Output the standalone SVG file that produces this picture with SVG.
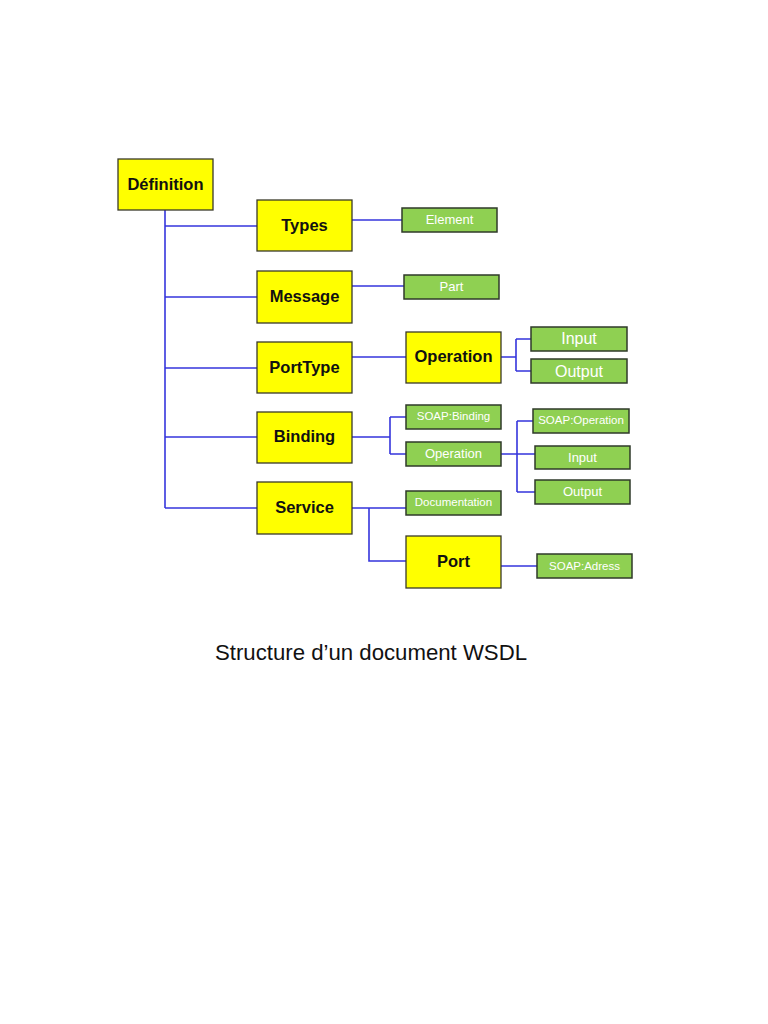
<svg xmlns="http://www.w3.org/2000/svg" width="768" height="1024" viewBox="0 0 768 1024">
<style>
.y{fill:#FFFF00;stroke:#3a3a2a;stroke-width:1.3}
.g{fill:#8FD052;stroke:#2f3a2a;stroke-width:1.5}
.yt{font-family:"Liberation Sans",Arial,sans-serif;font-weight:bold;font-size:16.5px;fill:#111;text-anchor:middle}
.gt{font-family:"Liberation Sans",Arial,sans-serif;font-size:13px;fill:#fff;text-anchor:middle}
.gs{font-family:"Liberation Sans",Arial,sans-serif;font-size:11.5px;fill:#fff;text-anchor:middle}
.gl{font-family:"Liberation Sans",Arial,sans-serif;font-size:16px;fill:#fff;text-anchor:middle}
.c{fill:none;stroke:#3535DC;stroke-width:1.6}
</style>
<rect width="768" height="1024" fill="#fff"/>
<g id="connectors">
<path class="c" d="M165,210 V508"/>
<path class="c" d="M165,226 H257"/>
<path class="c" d="M165,297 H257"/>
<path class="c" d="M165,368 H257"/>
<path class="c" d="M165,437 H257"/>
<path class="c" d="M165,508 H257"/>
<path class="c" d="M352,220 H402"/>
<path class="c" d="M352,286 H404"/>
<path class="c" d="M352,357 H406"/>
<path class="c" d="M501,357 H516 M516,339 V371 M516,339 H531 M516,371 H531"/>
<path class="c" d="M352,437 H390 M390,417 V454 M390,417 H406 M390,454 H406"/>
<path class="c" d="M501,454 H535 M517,421 V492 M517,421 H533 M517,492 H535"/>
<path class="c" d="M352,508 H406 M369,508 V561 H406"/>
<path class="c" d="M501,566 H537"/>
</g>
<g id="definition"><rect class="y" x="118" y="159" width="95" height="51"/><text class="yt" x="165.5" y="190">Définition</text></g>
<g id="types"><rect class="y" x="257" y="200" width="95" height="51"/><text class="yt" x="304.5" y="231">Types</text></g>
<g id="message"><rect class="y" x="257" y="271" width="95" height="52"/><text class="yt" x="304.5" y="302">Message</text></g>
<g id="porttype"><rect class="y" x="257" y="342" width="95" height="51"/><text class="yt" x="304.5" y="373">PortType</text></g>
<g id="binding"><rect class="y" x="257" y="412" width="95" height="51"/><text class="yt" x="304.5" y="442">Binding</text></g>
<g id="service"><rect class="y" x="257" y="482" width="95" height="52"/><text class="yt" x="304.5" y="513">Service</text></g>
<g id="operation"><rect class="y" x="406" y="332" width="95" height="51"/><text class="yt" x="453.5" y="362">Operation</text></g>
<g id="port"><rect class="y" x="406" y="536" width="95" height="52"/><text class="yt" x="453.5" y="567">Port</text></g>
<g id="element"><rect class="g" x="402" y="208" width="95" height="24"/><text class="gt" x="449.5" y="224">Element</text></g>
<g id="part"><rect class="g" x="404" y="275" width="95" height="24"/><text class="gt" x="451.5" y="291">Part</text></g>
<g id="input1"><rect class="g" x="531" y="327" width="96" height="24"/><text class="gl" x="579" y="344">Input</text></g>
<g id="output1"><rect class="g" x="531" y="359" width="96" height="24"/><text class="gl" x="579" y="377">Output</text></g>
<g id="soapbinding"><rect class="g" x="406" y="405" width="95" height="24"/><text class="gs" x="453.5" y="420">SOAP:Binding</text></g>
<g id="operation2"><rect class="g" x="406" y="442" width="95" height="24"/><text class="gt" x="453.5" y="458">Operation</text></g>
<g id="soapoperation"><rect class="g" x="533" y="409" width="96" height="24"/><text class="gs" x="581" y="424">SOAP:Operation</text></g>
<g id="input2"><rect class="g" x="535" y="446" width="95" height="23"/><text class="gt" x="582.5" y="462">Input</text></g>
<g id="output2"><rect class="g" x="535" y="480" width="95" height="24"/><text class="gt" x="582.5" y="496">Output</text></g>
<g id="documentation"><rect class="g" x="406" y="491" width="95" height="24"/><text class="gs" x="453.5" y="506" font-size="11px">Documentation</text></g>
<g id="soapadress"><rect class="g" x="537" y="554" width="95" height="24"/><text class="gs" x="584.5" y="570">SOAP:Adress</text></g>
<text x="215" y="660" font-family="Liberation Sans,Arial,sans-serif" font-size="22" fill="#111" textLength="312" lengthAdjust="spacingAndGlyphs">Structure d’un document WSDL</text>
</svg>
